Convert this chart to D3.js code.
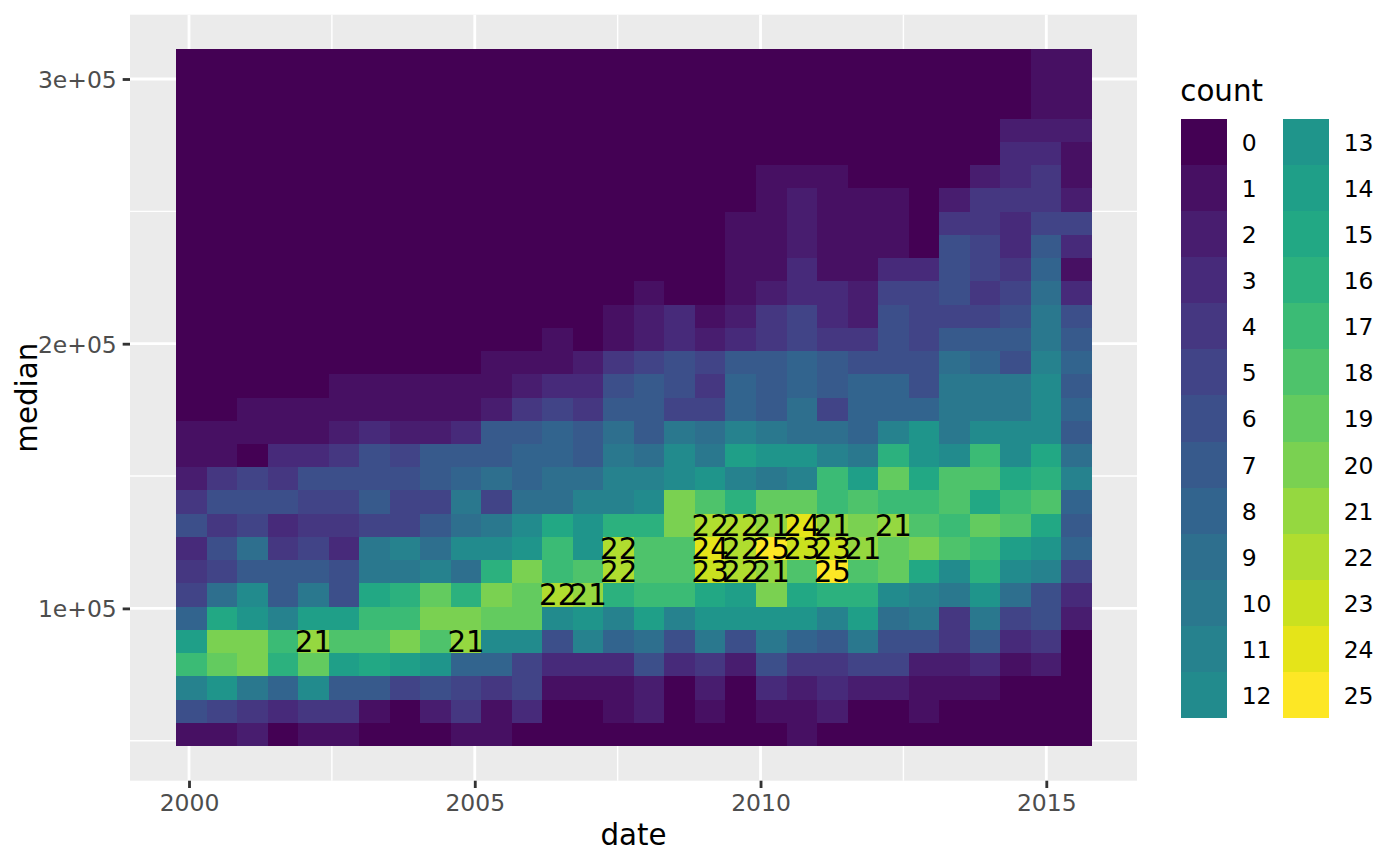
<!DOCTYPE html>
<html>
<head>
<meta charset="utf-8">
<script src="https://cdn.jsdelivr.net/npm/d3@7"></script>
<style>
html,body{margin:0;padding:0;background:#fff}
svg{display:block}
text{font-family:"DejaVu Sans",sans-serif}
</style>
</head>
<body>
<svg id="chart" width="1400" height="866"></svg>
<script>
// Bin layout in data units
const xFirstEdge = 1999.775;
const xBinWidth = 0.534;
const yFirstEdge = 48017;
const yBinWidth = 8777;

// Tile counts: first row is the top of the plot, last row the bottom
const countsTopDown = [
 [0,0,0,0,0,0,0,0,0,0,0,0,0,0,0,0,0,0,0,0,0,0,0,0,0,0,0,0,1,1],
 [0,0,0,0,0,0,0,0,0,0,0,0,0,0,0,0,0,0,0,0,0,0,0,0,0,0,0,0,1,1],
 [0,0,0,0,0,0,0,0,0,0,0,0,0,0,0,0,0,0,0,0,0,0,0,0,0,0,0,0,1,1],
 [0,0,0,0,0,0,0,0,0,0,0,0,0,0,0,0,0,0,0,0,0,0,0,0,0,0,0,2,2,2],
 [0,0,0,0,0,0,0,0,0,0,0,0,0,0,0,0,0,0,0,0,0,0,0,0,0,0,0,3,3,1],
 [0,0,0,0,0,0,0,0,0,0,0,0,0,0,0,0,0,0,0,1,1,1,0,0,0,0,2,3,4,1],
 [0,0,0,0,0,0,0,0,0,0,0,0,0,0,0,0,0,0,0,1,2,1,1,1,0,2,4,4,4,2],
 [0,0,0,0,0,0,0,0,0,0,0,0,0,0,0,0,0,0,1,1,2,1,1,1,0,4,4,3,5,5],
 [0,0,0,0,0,0,0,0,0,0,0,0,0,0,0,0,0,0,1,1,2,1,1,1,0,6,5,3,7,3],
 [0,0,0,0,0,0,0,0,0,0,0,0,0,0,0,0,0,0,1,1,3,1,1,3,3,6,5,4,8,1],
 [0,0,0,0,0,0,0,0,0,0,0,0,0,0,0,1,0,0,1,2,3,3,2,5,5,6,4,5,9,3],
 [0,0,0,0,0,0,0,0,0,0,0,0,0,0,1,2,3,1,2,4,5,3,2,6,5,5,5,6,10,6],
 [0,0,0,0,0,0,0,0,0,0,0,0,1,0,1,2,3,2,3,4,5,4,4,6,5,7,7,7,10,7],
 [0,0,0,0,0,0,0,0,0,0,1,1,1,2,4,5,6,5,7,7,8,7,6,6,6,9,8,6,11,8],
 [0,0,0,0,0,1,1,1,1,1,1,2,3,3,6,7,6,4,8,7,8,7,8,8,6,10,10,10,12,7],
 [0,0,1,1,1,1,1,1,1,1,2,4,5,4,7,7,5,5,8,7,9,5,8,8,8,10,10,10,12,8],
 [1,1,1,1,1,2,3,2,2,3,7,7,8,7,9,7,10,9,11,10,9,9,8,11,13,10,12,12,12,7],
 [1,1,0,3,3,4,6,5,7,7,7,8,8,7,10,9,12,10,14,13,13,11,10,16,13,12,17,12,15,9],
 [2,4,5,4,6,6,6,6,7,8,9,8,9,9,11,11,12,13,11,10,11,17,14,19,15,18,18,15,16,11],
 [4,6,6,6,5,5,7,5,5,10,5,9,9,11,11,12,20,18,16,19,19,17,18,17,17,18,15,17,18,8],
 [6,4,5,3,4,4,5,5,7,9,10,12,15,13,16,16,20,22,22,21,24,21,20,21,18,17,19,18,15,7],
 [3,6,9,4,5,3,10,11,9,12,12,13,17,13,22,18,18,24,22,25,23,23,21,19,20,18,17,14,13,8],
 [4,5,7,7,7,6,10,10,11,9,16,20,17,18,22,18,18,23,22,21,18,25,18,19,15,12,16,12,11,5],
 [5,9,12,7,10,6,15,16,19,16,20,19,22,21,16,17,17,15,14,20,15,16,16,12,11,10,13,9,6,3],
 [8,15,13,11,14,14,17,17,20,20,19,19,12,13,11,14,11,13,13,13,13,11,14,9,10,4,10,5,6,2],
 [14,20,20,17,21,18,18,20,18,21,12,12,6,11,8,9,6,10,6,10,8,7,10,6,6,4,7,3,4,0],
 [17,19,20,16,19,14,15,14,13,8,8,5,3,3,3,6,3,4,2,6,4,4,5,5,2,2,3,1,2,0],
 [11,13,10,8,12,7,7,5,6,5,4,5,1,1,1,2,0,2,0,3,2,3,2,2,1,1,1,0,0,0],
 [6,5,4,3,4,4,1,0,2,4,1,3,0,0,1,2,0,1,0,1,1,2,0,0,1,0,0,0,0,0],
 [1,1,2,0,1,1,0,0,0,1,1,0,0,0,0,0,0,0,0,0,1,0,0,0,0,0,0,0,0,0]
];

const legendLevels = d3.range(0, 26);
const legendColumns = [legendLevels.slice(0, 13), legendLevels.slice(13)];
const xMajorTicks = [2000, 2005, 2010, 2015];
const xMinorTicks = [2002.5, 2007.5, 2012.5];
const yMajorTicks = [100000, 200000, 300000];
const yMinorTicks = [50000, 150000, 250000];
const yTickLabels = ["1e+05", "2e+05", "3e+05"];
const labelThreshold = 20;

const panel = {left:130, right:1137, top:14.67, bottom:780.7};
const x = d3.scaleLinear().domain([2000, 2015]).range([189, 1046.3]);
const y = d3.scaleLinear().domain([100000, 300000]).range([608.4, 79]);
const fill = v => d3.interpolateViridis(v / 25);

const svg = d3.select("#chart");
svg.append("rect").attr("width",1400).attr("height",866).attr("fill","#fff");
svg.append("rect")
  .attr("x",panel.left).attr("y",panel.top)
  .attr("width",panel.right-panel.left).attr("height",panel.bottom-panel.top)
  .attr("fill","#EBEBEB");

const grid = svg.append("g");
function gridLines(vals, sw, vertical){
  grid.selectAll(null).data(vals).join("line")
    .attr("x1", d => vertical ? x(d) : panel.left)
    .attr("x2", d => vertical ? x(d) : panel.right)
    .attr("y1", d => vertical ? panel.top : y(d))
    .attr("y2", d => vertical ? panel.bottom : y(d))
    .attr("stroke","#fff").attr("stroke-width",sw);
}
gridLines(xMinorTicks,1.42,true);
gridLines(yMinorTicks,1.42,false);
gridLines(xMajorTicks,2.84,true);
gridLines(yMajorTicks,2.84,false);

const nRows = countsTopDown.length;
const cells = countsTopDown.flatMap((row, r) => row.map((count, c) => ({
  count,
  x0: xFirstEdge + c * xBinWidth,
  x1: xFirstEdge + (c + 1) * xBinWidth,
  y0: yFirstEdge + (nRows - 1 - r) * yBinWidth,
  y1: yFirstEdge + (nRows - r) * yBinWidth
})));

svg.append("g").selectAll("rect").data(cells).join("rect")
  .attr("x", d => x(d.x0))
  .attr("y", d => y(d.y1))
  .attr("width", d => x(d.x1) - x(d.x0))
  .attr("height", d => y(d.y0) - y(d.y1))
  .attr("fill", d => fill(d.count))
  .attr("shape-rendering","crispEdges");

svg.append("g").selectAll("text").data(cells.filter(d => d.count > labelThreshold)).join("text")
  .attr("x", d => x((d.x0 + d.x1) / 2))
  .attr("y", d => y((d.y0 + d.y1) / 2))
  .attr("dy","0.35em")
  .attr("text-anchor","middle")
  .attr("font-size",29.33)
  .attr("fill","#000")
  .text(d => d.count);

// Axes
const xAxis = d3.axisBottom(x).tickValues(xMajorTicks).tickFormat(d3.format("d")).tickSize(7.33).tickPadding(5.87);
const yAxis = d3.axisLeft(y).tickValues(yMajorTicks).tickFormat((d,i) => yTickLabels[i]).tickSize(7.33).tickPadding(5.87);
const gx = svg.append("g").attr("transform",`translate(0,${panel.bottom})`).call(xAxis);
const gy = svg.append("g").attr("transform",`translate(${panel.left},0)`).call(yAxis);
[gx,gy].forEach(g => {
  g.select(".domain").remove();
  g.selectAll(".tick line").attr("stroke","#333").attr("stroke-width",2.84);
  g.selectAll(".tick text").attr("fill","#4D4D4D").attr("font-size",23.47).attr("font-family","DejaVu Sans");
});
gy.selectAll(".tick text").attr("dy","0.36em");

svg.append("text").attr("x",(panel.left+panel.right)/2).attr("y",844.5)
  .attr("text-anchor","middle").attr("font-size",29.33).attr("fill","#000").text("date");
svg.append("text").attr("transform",`translate(36.5,${(panel.top+panel.bottom)/2}) rotate(-90)`)
  .attr("text-anchor","middle").attr("font-size",29.33).attr("fill","#000").text("median");

// Legend
svg.append("text").attr("x",1180.3).attr("y",100.5).attr("font-size",29.33).attr("fill","#000").text("count");
const keySize = 46.08, keyTop = 119;
const keyLeft = d3.scaleOrdinal().domain([0,1]).range([1181,1283]);
legendColumns.forEach((levels, col) => {
  const g = svg.append("g");
  g.selectAll("rect").data(levels).join("rect")
    .attr("x",keyLeft(col)).attr("y",(d,i)=>keyTop+i*keySize)
    .attr("width",46).attr("height",keySize)
    .attr("fill",fill).attr("shape-rendering","crispEdges");
  g.selectAll("text").data(levels).join("text")
    .attr("x",keyLeft(col)+60.67).attr("y",(d,i)=>keyTop+(i+0.5)*keySize)
    .attr("dy","0.38em").attr("font-size",23.47).attr("fill","#000").text(d=>d);
});
</script>
</body>
</html>
